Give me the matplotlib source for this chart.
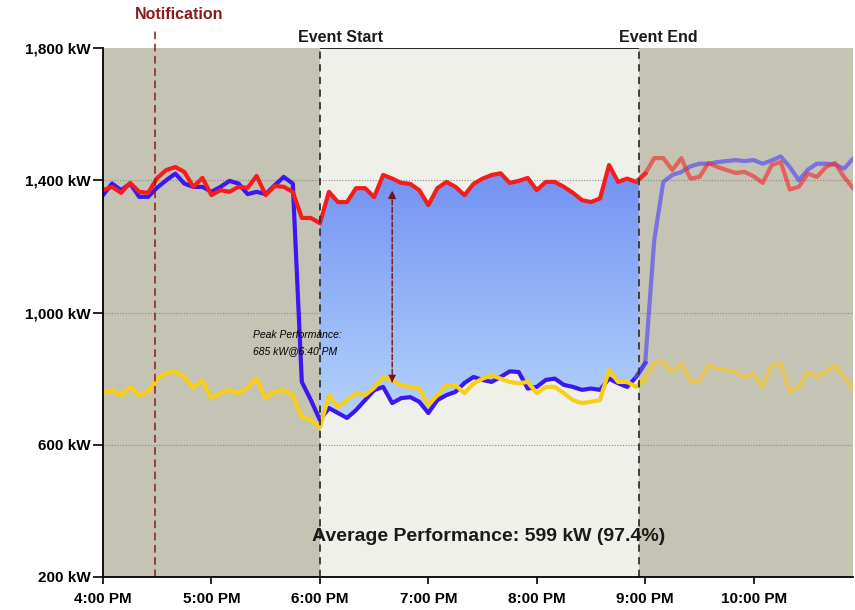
import numpy as np
import matplotlib.pyplot as plt
from matplotlib.patches import Polygon
from matplotlib.colors import LinearSegmentedColormap

plt.rcParams['font.family'] = ['Liberation Sans', 'DejaVu Sans']

# 5-minute readings from 4:00 PM
baseline = [1370, 1380, 1362, 1392, 1365, 1362, 1407, 1431, 1440, 1425, 1380, 1407,
            1355, 1370, 1365, 1380, 1377, 1413, 1355, 1383, 1380, 1365, 1286, 1286,
            1270, 1365, 1334, 1334, 1376, 1376, 1349, 1416, 1405, 1392, 1389, 1370,
            1325, 1376, 1395, 1380, 1355, 1389, 1405, 1416, 1421, 1392, 1398, 1407,
            1370, 1395, 1395, 1380, 1362, 1340, 1334, 1345, 1446, 1395, 1405, 1395,
            1420, 1467, 1467, 1431, 1467, 1405, 1410, 1452, 1440, 1431, 1422, 1425,
            1412, 1392, 1446, 1455, 1372, 1380, 1420, 1410, 1440, 1452, 1410, 1376]
actual = [1355, 1390, 1370, 1390, 1350, 1350, 1378, 1400, 1420, 1390, 1380, 1380,
          1365, 1380, 1398, 1390, 1358, 1365, 1358, 1385, 1410, 1390, 790, 735,
          675, 711, 696, 681, 705, 735, 765, 775, 726, 741, 744, 730,
          696, 735, 750, 760, 787, 805, 796, 790, 805, 822, 820, 770,
          775, 796, 800, 781, 775, 766, 770, 766, 800, 786, 775, 805,
          847, 1219, 1395, 1416, 1425, 1442, 1450, 1450, 1455, 1458, 1461, 1458,
          1461, 1450, 1460, 1472, 1440, 1400, 1432, 1450, 1450, 1448, 1435, 1465]
target = [756, 765, 750, 775, 750, 760, 800, 817, 820, 805, 772, 795,
          741, 756, 765, 756, 772, 800, 741, 760, 765, 750, 684, 675,
          652, 750, 714, 735, 756, 750, 772, 805, 795, 780, 775, 770,
          720, 750, 780, 780, 756, 785, 800, 810, 800, 790, 786, 790,
          756, 775, 775, 756, 735, 726, 730, 735, 826, 790, 790, 775,
          800, 847, 850, 820, 847, 790, 792, 840, 830, 826, 820, 805,
          815, 775, 840, 847, 760, 775, 820, 805, 820, 840, 805, 770]

hour_labels = ['4:00 PM', '5:00 PM', '6:00 PM', '7:00 PM', '8:00 PM', '9:00 PM', '10:00 PM']
kw_ticks = [200, 600, 1000, 1400, 1800]

notify_t = 16 + 29 / 60
start_t = 18.0
end_t = 20 + 56.5 / 60
peak_t = 18 + 40 / 60

t = 16 + np.arange(len(baseline)) * 5 / 60
baseline = np.array(baseline)
actual = np.array(actual)
target = np.array(target)

fig = plt.figure(figsize=(8.55, 6.1), dpi=100)
ax = fig.add_axes([0.1205, 0.0541, 0.8772, 0.8672])
xmax = t[-1]
ax.set_xlim(16, xmax)
ax.set_ylim(200, 1800)

# фон: до события, событие, после
ax.axvspan(16, start_t, color='#c5c3b4', zorder=0, lw=0)
ax.axvspan(start_t, end_t, color='#f0f0eb', zorder=0, lw=0)
ax.axvspan(end_t, xmax, color='#c5c3b4', zorder=0, lw=0)
for y in [600, 1000, 1400]:
    ax.axhline(y, color='#8a8a8a', lw=0.8, ls=(0, (1, 1.5)), zorder=1)
ax.hlines(1800, start_t, end_t, color='black', lw=1.2, zorder=2)

# градиентная заливка между baseline и actual во время события
ev = (t >= start_t) & (t <= end_t)
te = np.concatenate([t[ev], [end_t]])
be = np.concatenate([baseline[ev], [np.interp(end_t, t, baseline)]])
ae = np.concatenate([actual[ev], [np.interp(end_t, t, actual)]])
poly = Polygon(np.column_stack([np.concatenate([te, te[::-1]]),
                                np.concatenate([be, ae[::-1]])]),
               closed=True, facecolor='none', edgecolor='none')
ax.add_patch(poly)
grad = np.linspace(0, 1, 256).reshape(-1, 1)
cmap = LinearSegmentedColormap.from_list('g', ['#b6d5fb', '#6f8ef3'])
im = ax.imshow(grad, cmap=cmap, aspect='auto', origin='lower',
               extent=[start_t, end_t, 650, 1470], zorder=2)
im.set_clip_path(poly)

# линии: сплошные до конца события, бледные после
cut = np.searchsorted(t, end_t)
ax.plot(t[:cut + 1], actual[:cut + 1], color='#3a18f0', lw=3, zorder=4)
ax.plot(t[cut - 1:], actual[cut - 1:], color='#5a50f0', lw=3, alpha=0.7, zorder=4)
ax.plot(t[:cut + 1], baseline[:cut + 1], color='#f51c1c', lw=3, zorder=5)
ax.plot(t[cut - 1:], baseline[cut - 1:], color='#f03030', lw=3, alpha=0.65, zorder=5)
ax.plot(t[:cut + 1], target[:cut + 1], color='#f7cf18', lw=3, zorder=6)
ax.plot(t[cut - 1:], target[cut - 1:], color='#f0c830', lw=3, alpha=0.7, zorder=6)

# отметки события
for xv in [start_t, end_t]:
    ax.plot([xv, xv], [200, 1800], color='#333333', lw=1.3, ls=(0, (4, 3)), zorder=7)
ax.plot([notify_t, notify_t], [200, 1862], color='#8b1a1a', lw=1.1,
        ls=(0, (5, 3)), zorder=7, clip_on=False)
ax.text(16.70, 1900, 'Notification', color='#8b1a1a', fontsize=11.5,
        fontweight='bold', ha='center', va='center', clip_on=False)
ax.text(17.80, 1832, 'Event Start', color='#1a1a1a', fontsize=11.5,
        fontweight='bold', ha='left', va='center', clip_on=False)
ax.text(20.755, 1832, 'Event End', color='#1a1a1a', fontsize=11.5,
        fontweight='bold', ha='left', va='center', clip_on=False)

# стрелка пиковой нагрузки
ax.annotate('', xy=(peak_t, 1378), xytext=(peak_t, 782),
            arrowprops=dict(arrowstyle='-|>', color='#7a1010', lw=1, ls='--',
                            mutation_scale=12), zorder=8)
ax.annotate('', xy=(peak_t, 780), xytext=(peak_t, 1000),
            arrowprops=dict(arrowstyle='-|>', color='#7a1010', lw=0,
                            mutation_scale=14), zorder=8)
ax.text(17.385, 932, 'Peak Performance:', fontsize=7.5, style='italic',
        color='#000000', va='center', zorder=9)
ax.text(17.385, 884, '685 kW@6:40 PM', fontsize=7.5, style='italic',
        color='#000000', va='center', zorder=9)

ax.text(17.93, 324, 'Average Performance: 599 kW (97.4%)', fontsize=14,
        fontweight='bold', color='#1a1a1a', va='center', zorder=9)

# оси
ax.set_xticks(np.arange(16, 23))
ax.set_xticklabels(hour_labels, fontsize=11, fontweight='bold')
ax.set_yticks(kw_ticks)
ax.set_yticklabels(['{:,} kW'.format(v) for v in kw_ticks], fontsize=11,
                   fontweight='bold')
ax.tick_params(axis='x', direction='out', length=5, width=1.2, color='black', pad=6)
ax.tick_params(axis='y', direction='out', length=7, width=1.2, color='black', pad=2)
ax.spines['top'].set_visible(False)
ax.spines['right'].set_visible(False)
for s in ['left', 'bottom']:
    ax.spines[s].set_linewidth(1.3)
    ax.spines[s].set_zorder(10)

fig.savefig('out.png', dpi=100)
